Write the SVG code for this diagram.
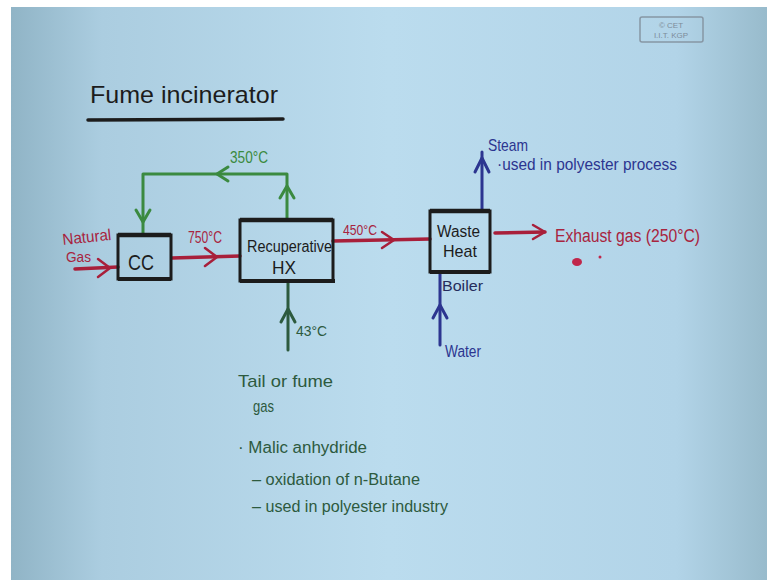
<svg xmlns="http://www.w3.org/2000/svg" width="767" height="580" viewBox="0 0 767 580">
<defs>
<linearGradient id="bg" x1="0" y1="0" x2="1" y2="0">
<stop offset="0" stop-color="#90b4c6"/>
<stop offset="0.12" stop-color="#abcde0"/>
<stop offset="0.5" stop-color="#bbdcee"/>
<stop offset="0.88" stop-color="#b2d4e8"/>
<stop offset="1" stop-color="#98bbcc"/>
</linearGradient>
<style>
.t{font-family:"Liberation Sans","DejaVu Sans",sans-serif;}
.box{fill:none;stroke:#1c1c1c;stroke-width:3;}
.red{fill:none;stroke:#a81f3a;stroke-width:3.5;stroke-linecap:round;stroke-linejoin:round;}
.ah{stroke-width:2.5;}
.grn{fill:none;stroke:#3b8a40;stroke-width:3;stroke-linecap:round;stroke-linejoin:round;}
.dgr{fill:none;stroke:#2d5a3e;stroke-width:3;stroke-linecap:round;stroke-linejoin:round;}
.blu{fill:none;stroke:#2c3590;stroke-width:3;stroke-linecap:round;stroke-linejoin:round;}
.tr{fill:#a8243e;}
.tg{fill:#3b8a40;}
.td{fill:#2d5a3e;}
.tb{fill:#2c3590;}
.tk{fill:#1c1c1c;}
</style>
</defs>
<rect x="0" y="0" width="767" height="580" fill="#ffffff"/>
<rect x="11" y="7" width="756" height="573" fill="url(#bg)"/>

<g id="stamp">
<rect x="640" y="17" width="63" height="25" rx="2" fill="none" stroke="#8796a4" stroke-width="1.5"/>
<text class="t" x="671" y="28" font-size="8" fill="#7d8c9a" text-anchor="middle">© CET</text>
<text class="t" x="671" y="38" font-size="8" fill="#7d8c9a" text-anchor="middle">I.I.T. KGP</text>
</g>

<g id="title">
<text class="t tk" x="90" y="103" font-size="24" textLength="188" lengthAdjust="spacingAndGlyphs">Fume incinerator</text>
<line x1="88" y1="120" x2="283" y2="119" stroke="#1c1c1c" stroke-width="3.5" stroke-linecap="round"/>
</g>

<g id="connectors">
<path class="red" d="M75,269 L118,267"/>
<polyline class="red ah" points="98,259 110,268 98,277"/>
<path class="red" d="M172,258 L240,256"/>
<polyline class="red ah" points="205,248 217,257 205,266"/>
<path class="red" d="M333,241 L430,239"/>
<polyline class="red ah" points="382,232 394,240 382,248"/>
<path class="red" d="M495,233 L545,232"/>
<polyline class="red ah" points="533,225 545,232 533,239"/>
<path class="grn" d="M287,219 V174 H143 V235"/>
<polyline class="grn ah" points="280,198 287,186 294,198"/>
<polyline class="grn ah" points="228,167 217,174 228,181"/>
<polyline class="grn ah" points="136,210 143,222 150,210"/>
<path class="dgr" d="M288,350 V282"/>
<polyline class="dgr ah" points="281,322 288,309 295,322"/>
<path class="blu" d="M482,210 V152"/>
<polyline class="blu ah" points="475,172 482,158 489,172"/>
<path class="blu" d="M440,345 V272"/>
<polyline class="blu ah" points="433,318 440,305 447,318"/>
</g>

<g id="cc">
<rect class="box" x="118" y="235" width="53" height="44"/>
<line x1="118" y1="235" x2="171" y2="235" stroke="#1c1c1c" stroke-width="4.5"/>
<line x1="118" y1="279" x2="171" y2="279" stroke="#1c1c1c" stroke-width="4"/>
<text class="t tk" x="128" y="270" font-size="22" textLength="26" lengthAdjust="spacingAndGlyphs">CC</text>
</g>

<g id="hx">
<rect class="box" x="240" y="220" width="93" height="61"/>
<line x1="240" y1="220" x2="333" y2="220" stroke="#1c1c1c" stroke-width="4.5"/>
<line x1="240" y1="281" x2="335" y2="281" stroke="#1c1c1c" stroke-width="4"/>
<text class="t tk" x="247" y="252" font-size="16" textLength="85" lengthAdjust="spacingAndGlyphs">Recuperative</text>
<text class="t tk" x="272" y="274" font-size="18" textLength="24" lengthAdjust="spacingAndGlyphs">HX</text>
</g>

<g id="whb">
<rect class="box" x="430" y="211" width="60" height="61"/>
<line x1="430" y1="211" x2="490" y2="211" stroke="#1c1c1c" stroke-width="4.5"/>
<line x1="430" y1="272" x2="490" y2="272" stroke="#1c1c1c" stroke-width="4"/>
<text class="t tk" x="437" y="237" font-size="16" textLength="43" lengthAdjust="spacingAndGlyphs">Waste</text>
<text class="t tk" x="443" y="257" font-size="17" textLength="34" lengthAdjust="spacingAndGlyphs">Heat</text>
<text class="t" x="442" y="291" font-size="15" fill="#262c5c" textLength="41" lengthAdjust="spacingAndGlyphs">Boiler</text>
</g>

<g id="labels">
<text class="t tr" x="63" y="245" font-size="16" textLength="49" lengthAdjust="spacingAndGlyphs" transform="rotate(-6 63 245)">Natural</text>
<text class="t tr" x="66" y="262" font-size="14" textLength="25" lengthAdjust="spacingAndGlyphs">Gas</text>
<text class="t tr" x="188" y="243" font-size="16" textLength="34" lengthAdjust="spacingAndGlyphs">750°C</text>
<text class="t tg" x="230" y="163" font-size="16" textLength="38" lengthAdjust="spacingAndGlyphs">350°C</text>
<text class="t tr" x="343" y="235" font-size="15" textLength="34" lengthAdjust="spacingAndGlyphs">450°C</text>
<text class="t tb" x="488" y="151" font-size="17" textLength="40" lengthAdjust="spacingAndGlyphs">Steam</text>
<text class="t tb" x="497" y="170" font-size="17" textLength="180" lengthAdjust="spacingAndGlyphs">·used in polyester process</text>
<text class="t tr" x="555" y="242" font-size="18" textLength="145" lengthAdjust="spacingAndGlyphs">Exhaust gas (250°C)</text>
<ellipse cx="577" cy="262" rx="5" ry="4" fill="#c0264a"/>
<circle cx="600" cy="257" r="1.5" fill="#c0264a"/>
<text class="t tb" x="445" y="357" font-size="16" textLength="36" lengthAdjust="spacingAndGlyphs">Water</text>
<text class="t td" x="296" y="336" font-size="15" textLength="31" lengthAdjust="spacingAndGlyphs">43°C</text>
<text class="t td" x="238" y="387" font-size="17" textLength="95" lengthAdjust="spacingAndGlyphs">Tail or fume</text>
<text class="t td" x="253" y="412" font-size="17" textLength="21" lengthAdjust="spacingAndGlyphs">gas</text>
<text class="t td" x="238" y="453" font-size="16" textLength="129" lengthAdjust="spacingAndGlyphs">· Malic anhydride</text>
<text class="t td" x="252" y="485" font-size="16" textLength="168" lengthAdjust="spacingAndGlyphs">– oxidation of n-Butane</text>
<text class="t td" x="252" y="512" font-size="16" textLength="196" lengthAdjust="spacingAndGlyphs">– used in polyester industry</text>
</g>
</svg>
